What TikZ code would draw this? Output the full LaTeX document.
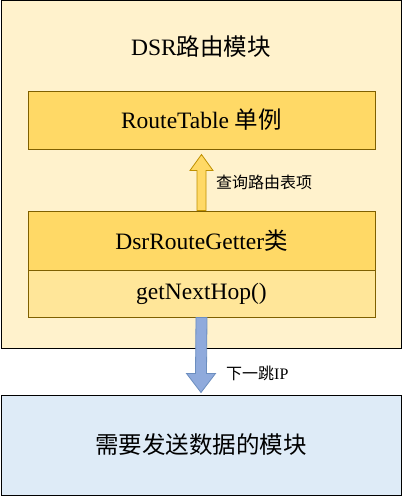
\documentclass[tikz,border=0pt]{standalone}
\usepackage{fontspec}
\setmainfont{Liberation Serif}
\newfontfamily\cjk{Noto Sans CJK SC}
\usetikzlibrary{calc}
\definecolor{outerfill}{HTML}{FFF2CC}
\definecolor{goldfill}{HTML}{FFD966}
\definecolor{lightgold}{HTML}{FFE699}
\definecolor{goldline}{HTML}{7F6000}
\definecolor{arrowgold}{HTML}{BF9000}
\definecolor{bluefill}{HTML}{DEEBF7}
\definecolor{arrowblue}{HTML}{8FAADC}
\definecolor{arrowblueline}{HTML}{6C8EBF}
\tikzset{
  bigtext/.style={font=\fontsize{23.5}{28}\selectfont},
  smalltext/.style={font=\fontsize{16}{19}\selectfont},
  classbox/.style={draw=goldline, line width=1pt, minimum width=347pt, inner sep=0pt, bigtext},
}
\begin{document}
\begin{tikzpicture}[x=1pt,y=-1pt]
\useasboundingbox (0,0) rectangle (402,496);
\node[draw=black, fill=outerfill, line width=1pt, minimum width=400pt, minimum height=348pt, inner sep=0pt] (outer) at (201,174.5) {};
\node[bigtext] (title) at (201,47) {DSR{\cjk 路由模块}};
\node[classbox, fill=goldfill, minimum height=58pt] (rt) at (201.5,120) {RouteTable {\cjk 单例}};
\node[classbox, fill=goldfill, minimum height=59pt] (drg) at (201.5,240.5) {DsrRouteGetter{\cjk 类}};
\node[classbox, fill=lightgold, minimum height=47pt] (gnh) at (201.5,293.5) {getNextHop()};
\node[draw=black, fill=bluefill, line width=1pt, minimum width=400pt, minimum height=100pt, inner sep=0pt, bigtext] (mod) at (201,445) {\cjk 需要发送数据的模块};
% up arrow
\draw[draw=arrowgold, fill=goldfill, line width=0.8pt, line join=miter]
  ($(drg.north)+(-4.5,0)$) -- ($(rt.south)+(-4.5,21)$) -- ($(rt.south)+(-11.5,21)$)
  -- ($(rt.south)+(0,5)$) -- ($(rt.south)+(11.5,21)$) -- ($(rt.south)+(4.5,21)$)
  -- ($(drg.north)+(4.5,0)$) -- cycle;
\node[smalltext, anchor=west, inner sep=0pt] (q) at (216,182) {\cjk 查询路由表项};
% down arrow
\draw[draw=arrowblueline, fill=arrowblue, line width=0.8pt, line join=miter]
  ($(gnh.south)+(-5.5,0)$) -- ($(mod.north)+(-5.5,-21)$) -- ($(mod.north)+(-14.5,-21)$)
  -- ($(mod.north)+(0,-2)$) -- ($(mod.north)+(14.5,-21)$) -- ($(mod.north)+(5.5,-21)$)
  -- ($(gnh.south)+(5.5,0)$) -- cycle;
\node[smalltext, anchor=west, inner sep=0pt] (nh) at (226,373) {{\cjk 下一跳}IP};
\end{tikzpicture}
\end{document}
